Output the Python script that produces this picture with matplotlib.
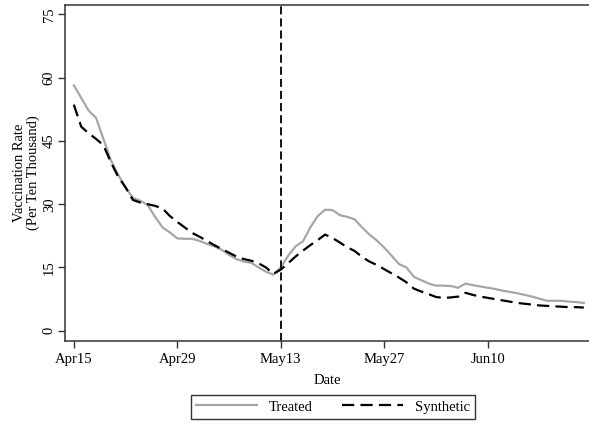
import matplotlib
matplotlib.use("Agg")
import matplotlib.pyplot as plt
from matplotlib.lines import Line2D
import numpy as np

plt.rcParams["font.family"] = ["Liberation Serif", "DejaVu Serif"]

# days since Apr 15
days = np.arange(70)
treated = [58.2, 55.2, 52.2, 50.5, 45.5, 40.5, 37.0, 34.0, 31.5, 30.8,
           29.8, 27.0, 24.5, 23.3, 21.9, 21.8, 21.8, 21.3, 20.6, 20.0,
           19.2, 18.0, 17.0, 16.4, 16.1, 15.0, 14.0, 13.3, 15.0, 17.8,
           20.0, 21.2, 24.5, 27.2, 28.7, 28.6, 27.4, 27.0, 26.4, 24.5,
           22.8, 21.4, 19.7, 17.8, 15.8, 15.0, 12.8, 12.0, 11.2, 10.7,
           10.7, 10.6, 10.2, 11.2, 10.8, 10.5, 10.2, 9.9, 9.5, 9.2,
           8.9, 8.5, 8.1, 7.6, 7.1, 7.1, 7.1, 6.9, 6.8, 6.6]
synthetic = [53.6, 48.4, 46.8, 45.5, 44.0, 40.0, 36.5, 34.0, 31.0, 30.4,
             30.0, 29.6, 29.0, 27.2, 25.8, 24.5, 23.2, 22.3, 21.3, 20.3,
             19.4, 18.5, 17.6, 17.0, 16.6, 16.0, 15.0, 13.5, 14.5, 16.0,
             17.6, 19.0, 20.3, 21.5, 22.8, 22.0, 20.9, 19.8, 18.9, 17.5,
             16.4, 15.6, 14.6, 13.6, 12.6, 11.5, 10.0, 9.3, 8.7, 8.0,
             7.8, 7.9, 8.1, 9.0, 8.5, 8.1, 7.8, 7.5, 7.2, 6.9,
             6.6, 6.4, 6.2, 6.0, 5.9, 5.8, 5.7, 5.6, 5.6, 5.5]
xtick_pos = [0, 14, 28, 42, 56]
xtick_lab = ["Apr15", "Apr29", "May13", "May27", "Jun10"]
ytick_pos = [0, 15, 30, 45, 60, 75]
treat_day = 28

fig = plt.figure(figsize=(5.89, 4.24), dpi=100)
ax = fig.add_axes([0.110, 0.196, 0.89, 0.792])

syn_dash = (5.5, 2.8)
ax.plot(days, treated, color="#a6a6a6", lw=1.6, label="Treated")
ax.plot(days, synthetic, color="black", lw=1.6, dashes=syn_dash, label="Synthetic")
ax.axvline(treat_day, color="black", lw=1.3, dashes=(4.5, 2.2))

ax.set_xlim(-1.22, 69.7)
ax.set_ylim(-2.4, 77.2)
ax.set_xticks(xtick_pos)
ax.set_xticklabels(xtick_lab, fontsize=10.5)
ax.set_yticks(ytick_pos)
ax.set_yticklabels([str(v) for v in ytick_pos], fontsize=10.5, rotation=90, va="center")
ax.tick_params(direction="out", length=5, width=1, color="#333333")
ax.tick_params(axis="y", pad=1.5)
ax.spines["right"].set_visible(False)
for s in ("left", "bottom", "top"):
    ax.spines[s].set_color("#333333")
    ax.spines[s].set_linewidth(1.1)

ax.set_xlabel("Date", fontsize=10.5, labelpad=6)
ax.set_ylabel("Vaccination Rate\n(Per Ten Thousand)", fontsize=10.5, linespacing=1.0)
ax.yaxis.set_label_coords(-0.048, 0.5)

handles = [Line2D([], [], color="#a6a6a6", lw=1.6),
           Line2D([], [], color="black", lw=1.6, dashes=syn_dash)]
leg = fig.legend(handles, ["Treated", "Synthetic"], loc="center",
                 bbox_to_anchor=(333 / 589, 1 - 407 / 424), ncol=2, fontsize=10.5,
                 frameon=True, fancybox=False, edgecolor="black", handlelength=4.2,
                 columnspacing=2.0, borderpad=0.35, handletextpad=0.8)
leg.get_frame().set_linewidth(1.0)

fig.savefig("out.png", dpi=100)
